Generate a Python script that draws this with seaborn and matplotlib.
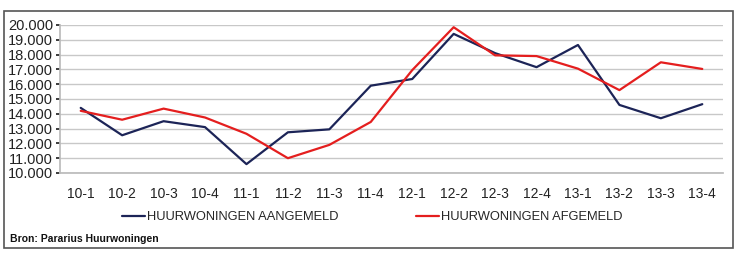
import matplotlib
matplotlib.use("Agg")
import matplotlib.pyplot as plt
import seaborn as sns
import pandas as pd
from matplotlib.patches import Rectangle
from matplotlib.lines import Line2D
from matplotlib.ticker import FuncFormatter, MultipleLocator

quarters = ["10-1", "10-2", "10-3", "10-4", "11-1", "11-2", "11-3", "11-4",
            "12-1", "12-2", "12-3", "12-4", "13-1", "13-2", "13-3", "13-4"]
aangemeld = [14400, 12550, 13500, 13100, 10600, 12750, 12950, 15900,
             16350, 19400, 18100, 17150, 18650, 14600, 13700, 14650]
afgemeld = [14200, 13600, 14350, 13750, 12650, 11000, 11900, 13450,
            16950, 19850, 17950, 17900, 17050, 15600, 17480, 17030]
series_names = ["HUURWONINGEN AANGEMELD", "HUURWONINGEN AFGEMELD"]
source_text = "Bron: Pararius Huurwoningen"

sns.set_theme(style="white")
plt.rcParams['font.family'] = ['Liberation Sans', 'DejaVu Sans']

df = pd.DataFrame({
    "x": list(range(len(quarters))) * 2,
    "value": aangemeld + afgemeld,
    "serie": [series_names[0]] * len(quarters) + [series_names[1]] * len(quarters),
})

fig = plt.figure(figsize=(7.4, 2.6), dpi=100)
fig.patch.set_facecolor("white")
ax = fig.add_axes([60/740, 1 - 173/260, (723-60)/740, (173-25)/260])

palette = {series_names[0]: "#1c2457", series_names[1]: "#e41e1e"}
sns.lineplot(data=df, x="x", y="value", hue="serie", palette=palette,
             linewidth=1.6, ax=ax, legend=False)

ax.set_xlim(-0.5, len(quarters) - 0.5)
ax.set_ylim(10000, 20000)
ax.yaxis.set_major_locator(MultipleLocator(1000))
ax.yaxis.set_major_formatter(FuncFormatter(lambda v, p: f"{int(v):,}".replace(",", ".")))
ax.set_xticks(range(len(quarters)))
ax.set_xticklabels(quarters)
ax.set_xticks([i - 0.5 for i in range(len(quarters) + 1)], minor=True)
ax.tick_params(axis="x", which="major", length=0, pad=10, labelsize=10, colors="#222222")
ax.tick_params(axis="x", which="minor", length=3, color="#bbbbbb", direction="out")
ax.tick_params(axis="y", which="major", length=3, color="#bbbbbb", labelsize=10.5,
               colors="#222222", pad=2, left=True)
ax.tick_params(axis="y", colors="#222222")
ax.yaxis.grid(True, color="#c8c8c8", linewidth=1.0)
ax.set_axisbelow(True)
for s in ["top", "right"]:
    ax.spines[s].set_visible(False)
ax.spines["left"].set_color("#bbbbbb")
ax.spines["bottom"].set_color("#bbbbbb")
ax.set_xlabel("")
ax.set_ylabel("")

# legend entries placed individually
legend_x = [122, 416]
for name, lx in zip(series_names, legend_x):
    fig.legend([Line2D([0], [0], color=palette[name], lw=1.6)], [name],
               loc="center left", bbox_to_anchor=(lx/740, 1 - 217/260),
               frameon=False, fontsize=9.3, handlelength=1.8, handletextpad=0.15,
               borderaxespad=0, borderpad=0)

fig.text(10/740, 1 - 239/260, source_text, fontsize=7.5, fontweight="bold",
         va="center", ha="left", color="#111111")

fig.patches.append(Rectangle((4/740, 1 - 248/260), (733-4)/740, (248-11)/260,
                             transform=fig.transFigure, fill=False,
                             edgecolor="#555555", linewidth=1.2))

fig.savefig("out.png", dpi=100)
